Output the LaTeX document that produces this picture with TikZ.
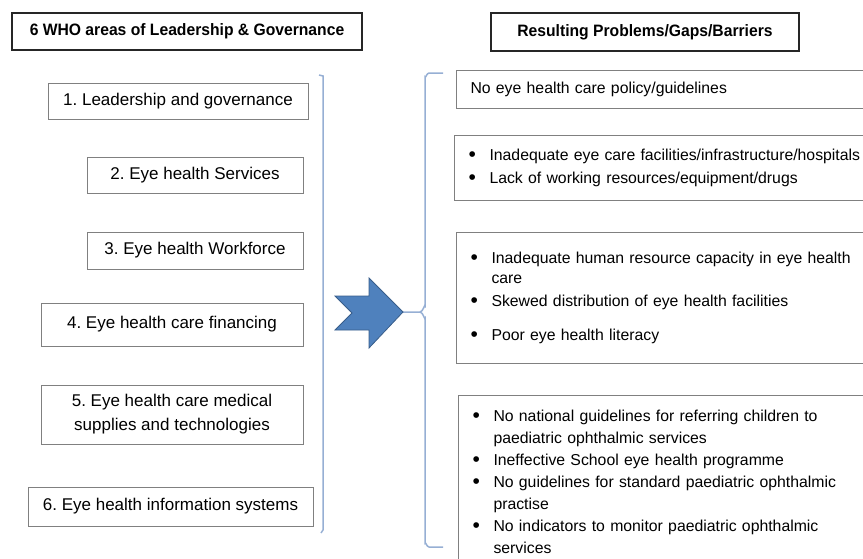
\documentclass[tikz,border=0pt]{standalone}
\usepackage{fontspec}
\setmainfont{Liberation Sans}
\newfontfamily\headfont[FakeStretch=0.95]{Liberation Sans}
\usepackage{xcolor}
\usepackage{tikz}
\usetikzlibrary{positioning}
\definecolor{BoxGray}{RGB}{128,128,128}
\definecolor{BraceBlue}{RGB}{150,175,212}
\definecolor{ArrowBlue}{RGB}{79,129,189}
\definecolor{ArrowEdge}{RGB}{56,93,138}
\newcommand{\bul}{\makebox[21pt][l]{\raisebox{-1.2pt}{\fontsize{21}{22}\selectfont\textbullet}}}
\newcommand{\hang}{\hspace*{21pt}}
\frenchspacing
\tikzset{
    headbox/.style={draw=black!85, line width=1.3pt, inner sep=0pt, font=\headfont\bfseries\fontsize{16.5}{20}\selectfont},
    areabox/.style={draw=BoxGray, line width=1pt, align=center, inner sep=0pt, font=\fontsize{17}{24}\selectfont},
    gapbox/.style={draw=BoxGray, line width=1pt, anchor=north west, align=left, text width=420pt, inner xsep=14pt, inner ysep=0pt, font=\fontsize{15.8}{22}\selectfont},
    bracket/.style={draw=BraceBlue, line width=1.5pt}
}

\begin{document}
\begin{tikzpicture}[x=1pt, y=-1pt]
    \useasboundingbox (0,0) rectangle (863,558);
    \clip (0,0) rectangle (863,558);

    % headings
    \node[headbox, minimum width=350pt, minimum height=37pt] (areahead) at (187,31.5) {6 WHO areas of Leadership \& Governance};
    \node[headbox, minimum width=308pt, minimum height=38pt] (gaphead) at (645,32) {Resulting Problems/Gaps/Barriers};

    % the six WHO areas
    \node[areabox, minimum width=260pt, minimum height=36pt] (area1) at (178,101) {1. Leadership and governance};
    \node[areabox, minimum width=216pt, minimum height=36pt] (area2) at (195,175) {2. Eye health Services};
    \node[areabox, minimum width=216pt, minimum height=37pt] (area3) at (195,250.5) {3. Eye health Workforce};
    \node[areabox, minimum width=262pt, minimum height=43pt] (area4) at (172,324.5) {4. Eye health care financing};
    \node[areabox, minimum width=262pt, minimum height=59pt] (area5) at (172,414.5) {5. Eye health care medical\\supplies and technologies};
    \node[areabox, minimum width=285pt, minimum height=39pt] (area6) at (170.5,506.5) {6. Eye health information systems};

    % problems, gaps and barriers
    \node[gapbox, minimum height=38pt] (gap1) at (456,70) {No eye health care policy/guidelines};
    \node[gapbox, minimum height=65pt] (gap2) at (454,135) {\bul Inadequate eye care facilities/infrastructure/hospitals\\[1pt]
        \bul Lack of working resources/equipment/drugs};
    \node[gapbox, minimum height=131pt] (gap3) at (456,232) {\bul Inadequate human resource capacity in eye health\\[-2pt]
        \hang care\\[1pt]
        \bul Skewed distribution of eye health facilities\\[12pt]
        \bul Poor eye health literacy};
    \node[gapbox, minimum height=173pt] (gap4) at (458,395) {\bul No national guidelines for referring children to\\
        \hang paediatric ophthalmic services\\
        \bul Ineffective School eye health programme\\
        \bul No guidelines for standard paediatric ophthalmic\\
        \hang practise\\
        \bul No indicators to monitor paediatric ophthalmic\\
        \hang services};

    % brackets and arrow
    \draw[bracket] (319,75) -- (323,76) -- (323,530) -- (321,533);
    \coordinate (tip) at (403,312);
    \draw[bracket] (443,73) -- (429,73) to[out=180,in=-90] (425,77) -- (425,306) to[out=90,in=0] (420,312) -- (tip);
    \draw[bracket] (420,312) to[out=0,in=-90] (425,318) -- (425,543) to[out=90,in=180] (429,547) -- (443,547);
    \fill[ArrowBlue, draw=ArrowEdge, line width=0.8pt] (335,296) -- (369,296) -- (369,278) -- (tip) -- (369,348) -- (369,330) -- (335,330) -- (352,313) -- cycle;
\end{tikzpicture}
\end{document}
